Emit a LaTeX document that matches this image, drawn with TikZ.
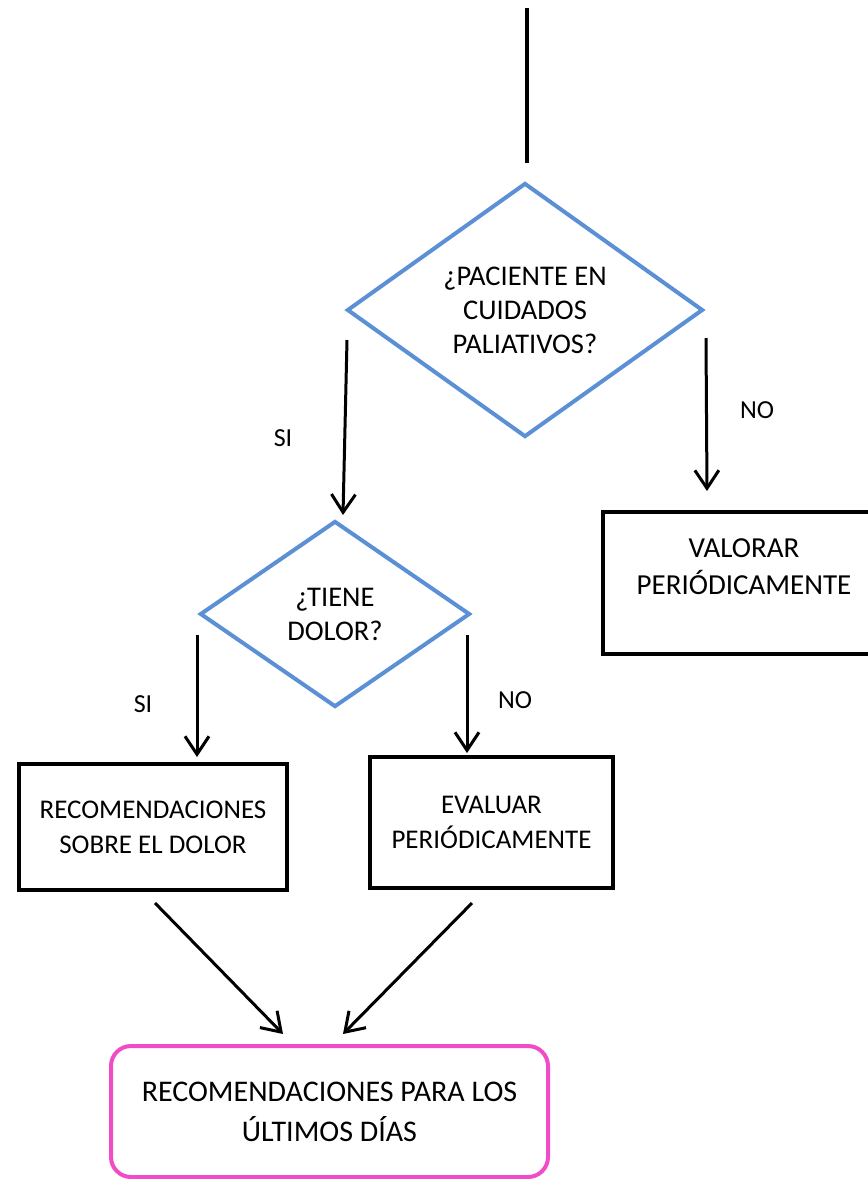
\documentclass[tikz,border=0pt]{standalone}
\usepackage{fontspec}
\setmainfont{Carlito}
\usetikzlibrary{shapes.geometric,arrows.meta}
\definecolor{dblue}{RGB}{91,143,214}
\definecolor{dpink}{RGB}{240,76,200}
\tikzset{
  decision/.style={diamond, draw=dblue, line width=4pt, inner sep=0pt, align=center, font=\fontsize{28.5}{34}\selectfont},
  procbox/.style={rectangle, draw=black, line width=4.5pt, inner sep=0pt, align=center, font=\fontsize{27}{35}\selectfont},
  endbox/.style={rectangle, rounded corners=20pt, draw=dpink, line width=4pt, inner sep=0pt, align=center, font=\fontsize{30}{40}\selectfont},
  arr/.style={line width=3pt, -{Straight Barb[length=18pt,width=24pt,line width=3pt]}},
  plain/.style={line width=3.5pt},
  lbl/.style={font=\fontsize{26}{30}\selectfont, inner sep=0pt}
}
\begin{document}
\begin{tikzpicture}[x=1pt,y=-1pt]
\useasboundingbox (0,0) rectangle (868,1179);
\clip (0,0) rectangle (868,1179);
% top line
\coordinate (t0) at (527,8);
\coordinate (t1) at (527,163);
\draw[plain] (t0) -- (t1);
% decisions
\node[decision, minimum width=356pt, minimum height=254pt] (d1) at (525,310) {¿PACIENTE EN\\CUIDADOS\\PALIATIVOS?};
\node[decision, minimum width=270pt, minimum height=186pt] (d2) at (335,614) {¿TIENE\\DOLOR?};
% boxes
\node[procbox, minimum width=282pt, minimum height=142pt, font=\fontsize{29}{37}\selectfont] (val) at (744,583) {VALORAR\\PERIÓDICAMENTE\\[-16pt]\strut};
\node[procbox, minimum width=268pt, minimum height=126pt] (rsd) at (153,827) {RECOMENDACIONES\\SOBRE EL DOLOR};
\node[procbox, minimum width=243pt, minimum height=131pt] (eval) at (491.5,822.5) {EVALUAR\\PERIÓDICAMENTE};
\node[endbox, minimum width=437pt, minimum height=131pt] (fin) at (329.5,1111.5) {RECOMENDACIONES PARA LOS\\ÚLTIMOS DÍAS};
% arrow coordinates
\coordinate (a1s) at (347,340);
\coordinate (a1e) at (343,515);
\coordinate (a2s) at (706,338);
\coordinate (a2e) at (707,491);
\coordinate (a3s) at (197,635);
\coordinate (a3e) at (197,757);
\coordinate (a4s) at (467,635);
\coordinate (a4e) at (467,753);
\coordinate (a5s) at (155,903);
\coordinate (a5e) at (283,1034);
\coordinate (a6s) at (472,903);
\coordinate (a6e) at (343,1034);
\draw[arr] (a1s) -- (a1e);
\draw[arr] (a2s) -- (a2e);
\draw[arr] (a3s) -- (a3e);
\draw[arr] (a4s) -- (a4e);
\draw[arr] (a5s) -- (a5e);
\draw[arr] (a6s) -- (a6e);
% labels
\node[lbl] (l1) at (283,438) {SI};
\node[lbl] (l2) at (757,410) {NO};
\node[lbl] (l3) at (143,704) {SI};
\node[lbl] (l4) at (515,700) {NO};
\end{tikzpicture}
\end{document}
